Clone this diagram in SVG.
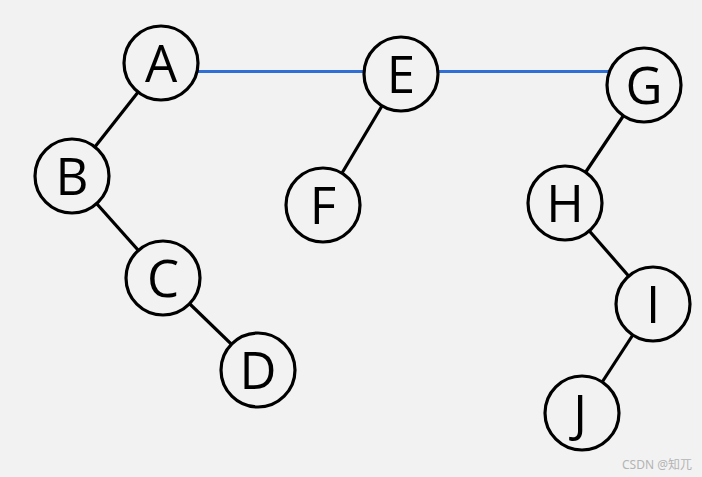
<svg xmlns="http://www.w3.org/2000/svg" width="702" height="477" viewBox="0 0 702 477">
<style>
.n circle{fill:#f2f2f2;stroke:#000;stroke-width:3.2}
.n text{font-family:"Open Sans","Liberation Sans",sans-serif;font-size:51px;fill:#000;text-anchor:middle}
.e line{stroke:#000;stroke-width:3.2}
.b line{stroke:#2f6fd6;stroke-width:3.2}
</style>
<rect width="702" height="477" fill="#f2f2f2"/>
<g id="connectors">
<g class="b"><line x1="161" y1="71.5" x2="644" y2="71.5"/></g>
<g class="e">
<line x1="161" y1="63" x2="72" y2="176"/>
<line x1="72" y1="176" x2="163" y2="278"/>
<line x1="163" y1="278" x2="258" y2="370"/>
<line x1="401" y1="74" x2="323" y2="205"/>
<line x1="644" y1="85" x2="565" y2="203"/>
<line x1="565" y1="203" x2="653" y2="304"/>
<line x1="653" y1="304" x2="582" y2="413"/>
</g>
</g>
<g id="A" class="n"><circle cx="161" cy="63" r="37"/><text x="161" y="81.5">A</text></g>
<g id="B" class="n"><circle cx="72" cy="176" r="37"/><text x="72" y="194.5">B</text></g>
<g id="C" class="n"><circle cx="163" cy="278" r="37"/><text x="163" y="296.5">C</text></g>
<g id="D" class="n"><circle cx="258" cy="370" r="37"/><text x="258" y="388.5">D</text></g>
<g id="E" class="n"><circle cx="401" cy="74" r="37"/><text x="401" y="92.5">E</text></g>
<g id="F" class="n"><circle cx="323" cy="205" r="37"/><text x="323" y="223.5">F</text></g>
<g id="G" class="n"><circle cx="644" cy="85" r="37"/><text x="644" y="103.5">G</text></g>
<g id="H" class="n"><circle cx="565" cy="203" r="37"/><text x="565" y="221.5">H</text></g>
<g id="I" class="n"><circle cx="653" cy="304" r="37"/><text x="653" y="322.5">I</text></g>
<g id="J" class="n"><circle cx="582" cy="413" r="37"/><text x="580" y="431.5">J</text></g>
<text x="692" y="469" font-family="'Noto Sans','Noto Sans CJK SC',sans-serif" font-size="12" fill="#b4b4b4" text-anchor="end">CSDN @知兀</text>
</svg>
